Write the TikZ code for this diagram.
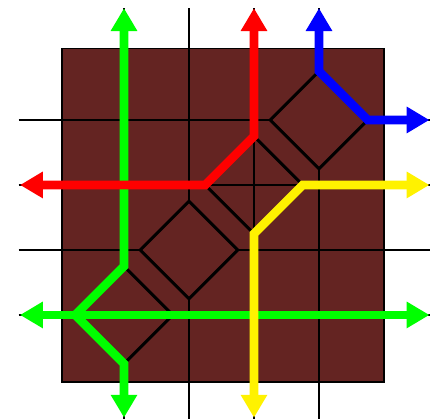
\documentclass[tikz,border=0pt]{standalone}
\usepackage{tikz}
\usepackage{xcolor}
\usetikzlibrary{arrows.meta,calc}
\definecolor{board}{RGB}{100,36,34}

\begin{document}
\begin{tikzpicture}[
        gridline/.style={draw=black, line width=0.9pt},
        wall/.style={draw=black, line width=1.3pt, fill=board},
        route/.style={line width=3.8pt,
                      {Triangle[width=11pt,length=10pt]}-{Triangle[width=11pt,length=10pt]}}]
        \useasboundingbox (-0.908,-0.6) rectangle (5.708,5.846);

        % board and grid
        \draw[fill=board, line width=0.8pt] (0.05,-0.03) rectangle (5,5.1);
        \foreach \k in {1,...,4} {
            \draw[gridline] (\k,-0.6) -- (\k,5.72);
            \draw[gridline] (-0.62,\k) -- (5.71,\k);
        }
        \foreach \k in {1,...,4}
            \draw[wall] ({\k},{\k+0.75}) -- ({\k+0.75},{\k}) -- ({\k},{\k-0.75}) -- ({\k-0.75},{\k}) -- cycle;
        \draw[gridline] (3,2.25) -- (3,3.75) (2.25,3) -- (3.75,3);

        % route ends and turns
        \coordinate (gN) at (1,5.72);
        \coordinate (gS) at (1,-0.58);
        \coordinate (gW) at (-0.6,1);
        \coordinate (gE) at (5.7,1);
        \coordinate (rN) at (3,5.72);
        \coordinate (rW) at (-0.6,3);
        \coordinate (bN) at (4,5.72);
        \coordinate (bE) at (5.7,4);
        \coordinate (yE) at (5.7,3);
        \coordinate (yS) at (3,-0.58);

        \draw[route, green] (gN) -- (1,1.75) -- (0.25,1) -- (1,0.25) -- (gS);
        \draw[route, green] (gW) -- (gE);
        \draw[route, red] (rN) -- (3,3.75) -- (2.25,3) -- (rW);
        \draw[route, blue] (bN) -- (4,4.75) -- (4.75,4) -- (bE);
        \draw[route, yellow] (yE) -- (3.75,3) -- (3,2.25) -- (yS);
\end{tikzpicture}
\end{document}
